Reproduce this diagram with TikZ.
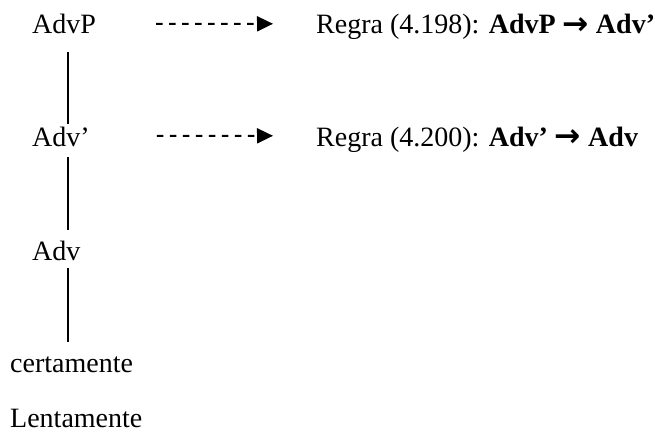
\documentclass[tikz,border=0pt]{standalone}
\usepackage{fontspec}
\setmainfont{Liberation Serif}
\newfontfamily\arrowfont{DejaVu Sans}
\newcommand{\rulearrow}{\raisebox{-0.5pt}{\scalebox{1.12}{\arrowfont\bfseries →}}}
\usetikzlibrary{arrows.meta,calc}
\begin{document}
\begin{tikzpicture}[x=1pt,y=-1pt,
  every node/.style={inner sep=0pt,anchor=base west,font=\fontsize{28}{34}\selectfont},
  treenode/.style={text height=19pt,text depth=6pt},
  treeline/.style={line width=1.8pt},
  dasharrow/.style={line width=2pt,dash pattern=on 6.5pt off 6.5pt,-{Triangle[length=16pt,width=15pt]}}
]
\useasboundingbox (0,0) rectangle (655,433);
\coordinate (axis) at (68,0);
\node[treenode] (advp) at (32,34) {AdvP};
\node[treenode] (advbar) at (32,146) {Adv’};
\node[treenode] (adv) at (32,260) {Adv};
\node[treenode] (cert) at (10,372) {certamente};
\node (lent) at (10,427) {Lentamente};
\node (rule1) at (316,34) {Regra (4.198): \textbf{AdvP \rulearrow{} Adv’}};
\node (rule2) at (316,146) {Regra (4.200): \textbf{Adv’ \rulearrow{} Adv}};
\draw[treeline,shorten <=12pt,shorten >=3pt] (advp.south -| axis) -- (advbar.north -| axis);
\draw[treeline,shorten <=5pt,shorten >=11pt] (advbar.south -| axis) -- (adv.north -| axis);
\draw[treeline,shorten <=2pt,shorten >=11pt] (adv.south -| axis) -- (cert.north -| axis);
\draw[dasharrow] ($(advp.east)+(60,-3.5)$) -- ($(rule1.west)+(-43,-3.5)$);
\draw[dasharrow] ($(advbar.east)+(67,-3.5)$) -- ($(rule2.west)+(-43,-3.5)$);
\end{tikzpicture}
\end{document}
